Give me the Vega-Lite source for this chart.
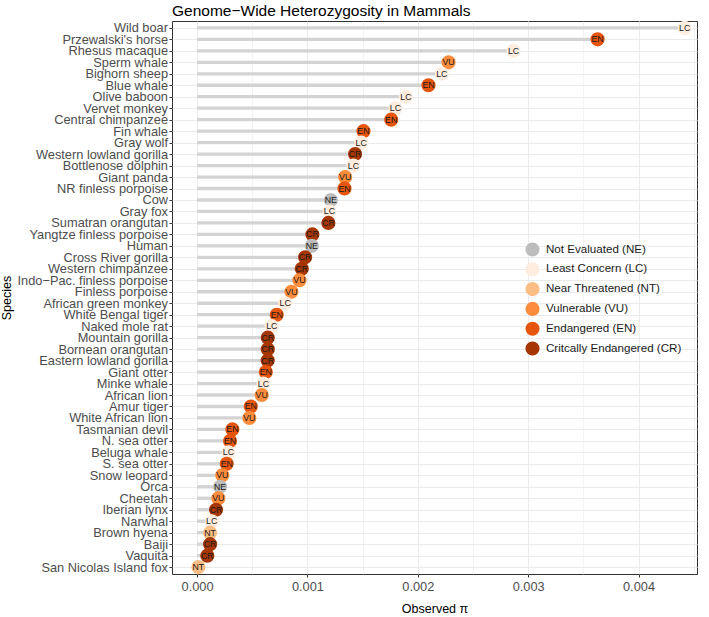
{
  "$schema": "https://vega.github.io/schema/vega-lite/v6.json",
  "width": 525,
  "height": 553,
  "autosize": {"type": "none"},
  "padding": {"left": 172, "top": 21, "right": 12, "bottom": 43},
  "background": "white",
  "title": {"text": "Genome−Wide Heterozygosity in Mammals", "anchor": "start", "frame": "group", "fontSize": 15.5, "font": "Liberation Sans", "fontWeight": "normal", "color": "#000000", "baseline": "alphabetic", "offset": 7, "dy": 18},
  "config": {
    "font": "Liberation Sans",
    "view": {"stroke": "#333333", "strokeWidth": 1}
  },
  "data": {"values": [
    {"species": "Wild boar", "pi": 0.004418, "code": "LC", "status": "Least Concern (LC)"},
    {"species": "Przewalski's horse", "pi": 0.003629, "code": "EN", "status": "Endangered (EN)"},
    {"species": "Rhesus macaque", "pi": 0.002868, "code": "LC", "status": "Least Concern (LC)"},
    {"species": "Sperm whale", "pi": 0.002279, "code": "VU", "status": "Vulnerable (VU)"},
    {"species": "Bighorn sheep", "pi": 0.002218, "code": "LC", "status": "Least Concern (LC)"},
    {"species": "Blue whale", "pi": 0.002097, "code": "EN", "status": "Endangered (EN)"},
    {"species": "Olive baboon", "pi": 0.001892, "code": "LC", "status": "Least Concern (LC)"},
    {"species": "Vervet monkey", "pi": 0.001798, "code": "LC", "status": "Least Concern (LC)"},
    {"species": "Central chimpanzee", "pi": 0.001759, "code": "EN", "status": "Endangered (EN)"},
    {"species": "Fin whale", "pi": 0.001508, "code": "EN", "status": "Endangered (EN)"},
    {"species": "Gray wolf", "pi": 0.001487, "code": "LC", "status": "Least Concern (LC)"},
    {"species": "Western lowland gorilla", "pi": 0.001432, "code": "CR", "status": "Critcally Endangered (CR)"},
    {"species": "Bottlenose dolphin", "pi": 0.001417, "code": "LC", "status": "Least Concern (LC)"},
    {"species": "Giant panda", "pi": 0.001342, "code": "VU", "status": "Vulnerable (VU)"},
    {"species": "NR finless porpoise", "pi": 0.001336, "code": "EN", "status": "Endangered (EN)"},
    {"species": "Cow", "pi": 0.001212, "code": "NE", "status": "Not Evaluated (NE)"},
    {"species": "Gray fox", "pi": 0.0012, "code": "LC", "status": "Least Concern (LC)"},
    {"species": "Sumatran orangutan", "pi": 0.00119, "code": "CR", "status": "Critcally Endangered (CR)"},
    {"species": "Yangtze finless porpoise", "pi": 0.001045, "code": "CR", "status": "Critcally Endangered (CR)"},
    {"species": "Human", "pi": 0.00104, "code": "NE", "status": "Not Evaluated (NE)"},
    {"species": "Cross River gorilla", "pi": 0.000979, "code": "CR", "status": "Critcally Endangered (CR)"},
    {"species": "Western chimpanzee", "pi": 0.000949, "code": "CR", "status": "Critcally Endangered (CR)"},
    {"species": "Indo−Pac. finless porpoise", "pi": 0.000928, "code": "VU", "status": "Vulnerable (VU)"},
    {"species": "Finless porpoise", "pi": 0.000855, "code": "VU", "status": "Vulnerable (VU)"},
    {"species": "African green monkey", "pi": 0.000798, "code": "LC", "status": "Least Concern (LC)"},
    {"species": "White Bengal tiger", "pi": 0.000722, "code": "EN", "status": "Endangered (EN)"},
    {"species": "Naked mole rat", "pi": 0.000677, "code": "LC", "status": "Least Concern (LC)"},
    {"species": "Mountain gorilla", "pi": 0.000641, "code": "CR", "status": "Critcally Endangered (CR)"},
    {"species": "Bornean orangutan", "pi": 0.000641, "code": "CR", "status": "Critcally Endangered (CR)"},
    {"species": "Eastern lowland gorilla", "pi": 0.00064, "code": "CR", "status": "Critcally Endangered (CR)"},
    {"species": "Giant otter", "pi": 0.000623, "code": "EN", "status": "Endangered (EN)"},
    {"species": "Minke whale", "pi": 0.000601, "code": "LC", "status": "Least Concern (LC)"},
    {"species": "African lion", "pi": 0.000586, "code": "VU", "status": "Vulnerable (VU)"},
    {"species": "Amur tiger", "pi": 0.000487, "code": "EN", "status": "Endangered (EN)"},
    {"species": "White African lion", "pi": 0.000474, "code": "VU", "status": "Vulnerable (VU)"},
    {"species": "Tasmanian devil", "pi": 0.00032, "code": "EN", "status": "Endangered (EN)"},
    {"species": "N. sea otter", "pi": 0.000299, "code": "EN", "status": "Endangered (EN)"},
    {"species": "Beluga whale", "pi": 0.000284, "code": "LC", "status": "Least Concern (LC)"},
    {"species": "S. sea otter", "pi": 0.000269, "code": "EN", "status": "Endangered (EN)"},
    {"species": "Snow leopard", "pi": 0.000229, "code": "VU", "status": "Vulnerable (VU)"},
    {"species": "Orca", "pi": 0.000209, "code": "NE", "status": "Not Evaluated (NE)"},
    {"species": "Cheetah", "pi": 0.000193, "code": "VU", "status": "Vulnerable (VU)"},
    {"species": "Iberian lynx", "pi": 0.000172, "code": "CR", "status": "Critcally Endangered (CR)"},
    {"species": "Narwhal", "pi": 0.000133, "code": "LC", "status": "Least Concern (LC)"},
    {"species": "Brown hyena", "pi": 0.000118, "code": "NT", "status": "Near Threatened (NT)"},
    {"species": "Baiji", "pi": 0.000118, "code": "CR", "status": "Critcally Endangered (CR)"},
    {"species": "Vaquita", "pi": 0.000093, "code": "CR", "status": "Critcally Endangered (CR)"},
    {"species": "San Nicolas Island fox", "pi": 0.000012, "code": "NT", "status": "Near Threatened (NT)"}
  ]},
  "encoding": {
    "y": {
      "field": "species", "type": "nominal", "sort": null,
      "scale": {"type": "point", "padding": 0.6},
      "axis": {
        "title": "Species", "titleFontSize": 12.5, "titleFontWeight": "normal", "titleColor": "#000000",
        "titleX": -166, "titleY": 276.5, "titleBaseline": "middle", "titleAlign": "center", "titleAngle": -90,
        "labelFontSize": 12.8, "labelColor": "#4d4d4d", "labelPadding": 1.5,
        "tickSize": 3, "tickColor": "#333333", "domain": false,
        "grid": true, "gridColor": "#ebebeb", "gridWidth": 1
      }
    }
  },
  "layer": [
    {
      "mark": {"type": "rule", "color": "#d3d3d3", "strokeWidth": 3.3},
      "encoding": {
        "x": {
          "field": "pi", "type": "quantitative",
          "scale": {"domain": [-0.000227, 0.00453], "nice": false, "zero": false},
          "axis": {"orient": "top", "values": [0.0005, 0.0015, 0.0025, 0.0035, 0.0045], "grid": true, "gridColor": "#ebebeb", "gridWidth": 0.6, "labels": false, "ticks": false, "domain": false, "title": null, "minExtent": 0, "maxExtent": 0, "offset": 0}
        },
        "x2": {"datum": 0}
      }
    },
    {
      "mark": {"type": "point", "filled": true, "opacity": 1, "size": 200, "shape": "circle"},
      "encoding": {
        "x": {
          "field": "pi", "type": "quantitative",
          "axis": {
            "orient": "bottom", "values": [0, 0.001, 0.002, 0.003, 0.004], "format": ".3f",
            "grid": true, "gridColor": "#ebebeb", "gridWidth": 1,
            "labelFontSize": 12.8, "labelColor": "#4d4d4d", "labelPadding": 3,
            "tickSize": 3, "tickColor": "#333333", "domain": false,
            "title": "Observed π", "titleFontSize": 12.5, "titleFontWeight": "normal", "titleColor": "#000000",
            "titleY": 34, "titleBaseline": "middle"
          }
        },
        "color": {
          "field": "status", "type": "nominal",
          "scale": {
            "domain": ["Not Evaluated (NE)", "Least Concern (LC)", "Near Threatened (NT)", "Vulnerable (VU)", "Endangered (EN)", "Critcally Endangered (CR)"],
            "range": ["#bdbdbd", "#feeddE", "#fdbe85", "#fd8d3c", "#e6550d", "#a63603"]
          },
          "legend": {
            "orient": "none", "legendX": 353, "legendY": 221, "title": null,
            "labelFontSize": 11.6, "labelColor": "#1a1a1a", "labelOffset": 6,
            "symbolSize": 200, "symbolType": "circle", "symbolStrokeWidth": 0, "symbolOpacity": 1,
            "rowPadding": 4.8, "padding": 0
          }
        }
      }
    },
    {
      "mark": {"type": "text", "fontSize": 8.8, "color": "#1a1a1a", "align": "center", "baseline": "middle"},
      "encoding": {
        "x": {"field": "pi", "type": "quantitative", "axis": null},
        "text": {"field": "code"}
      }
    }
  ],
  "resolve": {"axis": {"x": "independent"}}
}
